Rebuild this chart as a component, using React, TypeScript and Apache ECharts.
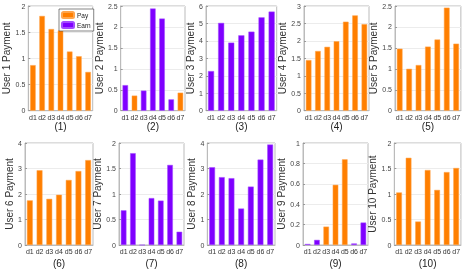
import React, { useEffect, useRef } from "react";
import * as echarts from "echarts";

const categories = ["d1", "d2", "d3", "d4", "d5", "d6", "d7"];

const user1 = [0.87, 1.81, 1.56, 1.53, 1.13, 1.04, 0.74];
const user2 = [0.61, 0.36, 0.48, 2.44, 2.2, 0.27, 0.43];
const user3 = [2.27, 5.03, 3.9, 4.32, 4.53, 5.35, 5.68];
const user4 = [1.45, 1.71, 1.83, 1.99, 2.55, 2.73, 2.48];
const user5 = [1.48, 1.0, 1.09, 1.53, 1.7, 2.46, 1.6];
const user6 = [1.75, 2.93, 1.81, 1.97, 2.55, 2.9, 3.33];
const user7 = [0.68, 1.8, 0, 0.92, 0.87, 1.57, 0.26];
const user8 = [3.05, 2.66, 2.62, 1.43, 2.29, 3.35, 3.94];
const user9 = [0.01, 0.05, 0.18, 0.59, 0.84, 0.015, 0.22];
const user10 = [1.03, 1.71, 0.46, 1.47, 1.08, 1.43, 1.51];

// P = Pay, E = Earn
const user1Type = ["P", "P", "P", "P", "P", "P", "P"];
const user2Type = ["E", "P", "E", "E", "E", "E", "P"];
const user3Type = ["E", "E", "E", "E", "E", "E", "E"];
const user4Type = ["P", "P", "P", "P", "P", "P", "P"];
const user5Type = ["P", "P", "P", "P", "P", "P", "P"];
const user6Type = ["P", "P", "P", "P", "P", "P", "P"];
const user7Type = ["E", "E", "E", "E", "E", "E", "E"];
const user8Type = ["E", "E", "E", "E", "E", "E", "E"];
const user9Type = ["E", "E", "P", "P", "P", "E", "E"];
const user10Type = ["P", "P", "P", "P", "P", "P", "P"];

const yMax = [2, 2.5, 6, 3, 2.5, 4, 2, 4, 1, 2];
const yInterval = [0.5, 0.5, 1, 0.5, 0.5, 1, 0.5, 1, 0.2, 0.5];
const panelLabels = ["(1)", "(2)", "(3)", "(4)", "(5)", "(6)", "(7)", "(8)", "(9)", "(10)"];

const values = [user1, user2, user3, user4, user5, user6, user7, user8, user9, user10];
const types = [user1Type, user2Type, user3Type, user4Type, user5Type, user6Type, user7Type, user8Type, user9Type, user10Type];

const PAY = "#ff7f00";
const EARN = "#7f00ff";

const grids = [
  { left: 28.3, top: 6, width: 64.4, height: 104.7 },
  { left: 120.7, top: 6, width: 64.3, height: 104.7 },
  { left: 206, top: 6, width: 70.7, height: 104.7 },
  { left: 304, top: 6, width: 65, height: 104.7 },
  { left: 395, top: 6, width: 66.7, height: 104.7 },
  { left: 25, top: 143, width: 68, height: 102 },
  { left: 119, top: 143, width: 65, height: 102 },
  { left: 207.3, top: 143, width: 67.7, height: 102 },
  { left: 303, top: 143, width: 65, height: 102 },
  { left: 394.3, top: 143, width: 67.4, height: 102 },
];

export default function App() {
  const ref = useRef<HTMLDivElement>(null);
  useEffect(() => {
    document.body.style.margin = "0";
    const chart = echarts.init(ref.current!, null, { renderer: "svg" });
    const font = "Liberation Sans";
    const xAxis: any[] = [];
    const yAxis: any[] = [];
    const series: any[] = [];
    values.forEach((vals, i) => {
      const row2 = i >= 5;
      xAxis.push({
        type: "category",
        gridIndex: i,
        data: categories,
        name: panelLabels[i],
        nameLocation: "middle",
        nameGap: row2 ? 13 : 10,
        nameTextStyle: { fontFamily: font, fontSize: 10, color: "#222" },
        axisLine: { lineStyle: { color: "#bbb", width: 1 } },
        axisTick: { show: false },
        axisLabel: { fontFamily: font, fontSize: 7, color: "#333", margin: 3, interval: 0 },
      });
      yAxis.push({
        type: "value",
        gridIndex: i,
        min: 0,
        max: yMax[i],
        interval: yInterval[i],
        name: `User ${i + 1} Payment`,
        nameLocation: "middle",
        nameGap: 10,
        nameTextStyle: { fontFamily: font, fontSize: 10, color: "#333" },
        axisLine: { show: true, lineStyle: { color: "#bbb", width: 1 } },
        axisTick: { show: true, inside: true, length: 2, lineStyle: { color: "#999" } },
        axisLabel: { fontFamily: font, fontSize: 7, color: "#444", margin: 3 },
        splitLine: { show: true, lineStyle: { color: "#ececec", width: 1 } },
      });
      series.push({
        name: "Pay",
        type: "bar",
        xAxisIndex: i,
        yAxisIndex: i,
        barWidth: "60%",
        barGap: "-100%",
        itemStyle: { color: PAY, borderColor: "#ffa54d", borderWidth: 0.5 },
        data: vals.map((v, j) => (types[i][j] === "P" ? v : "-")),
      });
      series.push({
        name: "Earn",
        type: "bar",
        xAxisIndex: i,
        yAxisIndex: i,
        barWidth: "60%",
        barGap: "-100%",
        itemStyle: { color: EARN, borderColor: "#a34dff", borderWidth: 0.5 },
        data: vals.map((v, j) => (types[i][j] === "E" ? v : "-")),
      });
    });
    chart.setOption({
      animation: false,
      grid: grids.map((g) => ({ ...g, show: true, borderColor: "#bbb", borderWidth: 1, containLabel: false })),
      xAxis,
      yAxis,
      series,
      legend: {
        data: ["Pay", "Earn"],
        orient: "vertical",
        left: 59,
        top: 9,
        padding: [2, 3, 2, 2],
        itemGap: 2,
        itemWidth: 12,
        itemHeight: 6,
        backgroundColor: "#fff",
        borderColor: "#333",
        borderWidth: 0.6,
        textStyle: { fontFamily: font, fontSize: 6.5, color: "#222", padding: [0, 0, 0, -2] },
      },
    });
    return () => chart.dispose();
  }, []);
  return <div ref={ref} style={{ position: "fixed", left: 0, top: 0, width: 463, height: 276 }} />;
}
